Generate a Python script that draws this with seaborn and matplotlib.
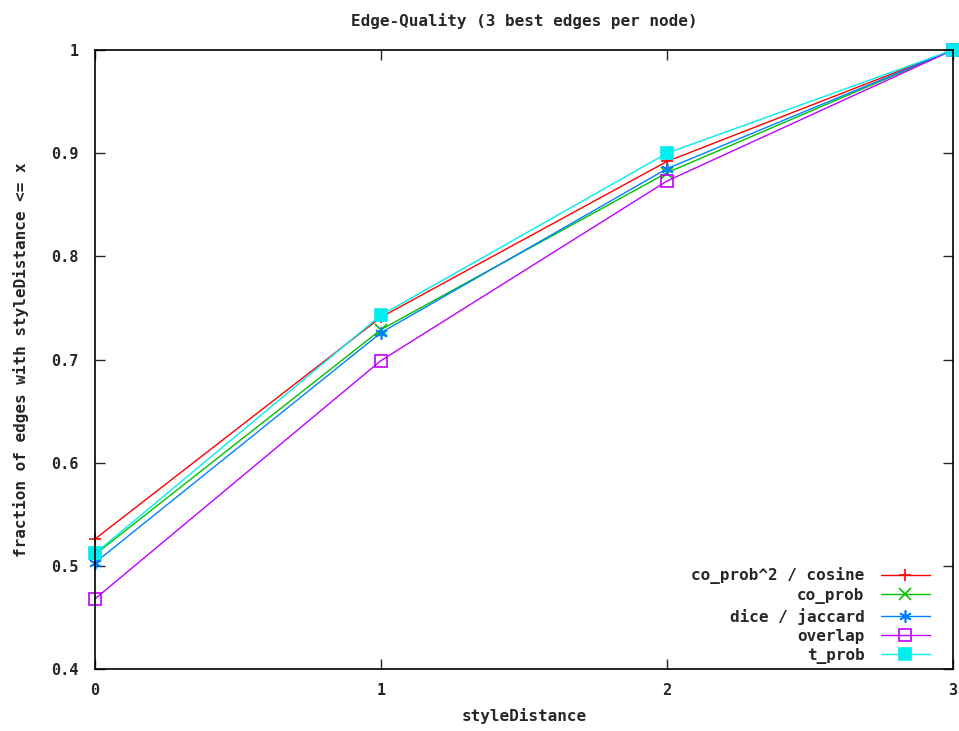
import matplotlib
matplotlib.use("Agg")
import matplotlib.pyplot as plt
import seaborn as sns
import pandas as pd

x_vals = [0, 1, 2, 3]
cosine = [0.526, 0.741, 0.892, 1.0]
co_prob = [0.511, 0.729, 0.881, 1.0]
dice = [0.503, 0.726, 0.885, 1.0]
overlap = [0.468, 0.699, 0.873, 1.0]
t_prob = [0.512, 0.743, 0.900, 1.0]

names = ["co_prob^2 / cosine", "co_prob", "dice / jaccard", "overlap", "t_prob"]
series = [cosine, co_prob, dice, overlap, t_prob]
colors = ["#ff0000", "#00c000", "#0080ff", "#c000ff", "#00eeee"]
markers = ["+", "x", (6, 2, 0), "s", "s"]
fills = [True, True, True, False, True]

sns.set_style("ticks")
plt.rcParams['font.family'] = ['DejaVu Sans Mono', 'DejaVu Sans']
plt.rcParams['font.weight'] = 'bold'
plt.rcParams['xtick.direction'] = 'in'
plt.rcParams['ytick.direction'] = 'in'

fig = plt.figure(figsize=(9.59, 7.31), dpi=100)
ax = fig.add_axes([95/959, 1-669/731, (953-95)/959, (669-50)/731])

for name, vals, c, m, f in zip(names, series, colors, markers, fills):
    df = pd.DataFrame({"x": x_vals, "y": vals})
    kw = dict(markerfacecolor=c if f else "none", markeredgecolor=c, markeredgewidth=1.2)
    sns.lineplot(data=df, x="x", y="y", ax=ax, color=c, marker=m, markersize=9,
                 linewidth=1, label=name, clip_on=False, **kw)

ax.set_xlim(0, 3)
ax.set_ylim(0.4, 1.0)
ax.set_xticks([0, 1, 2, 3])
ax.set_yticks([0.4, 0.5, 0.6, 0.7, 0.8, 0.9, 1.0])
ax.set_yticklabels(["0.4", "0.5", "0.6", "0.7", "0.8", "0.9", "1"])
ax.tick_params(axis='both', which='both', direction='in', top=True, right=True,
               length=7, width=1, labelsize=11, pad=10)
ax.tick_params(axis='y', pad=12)
for lab in ax.get_xticklabels() + ax.get_yticklabels():
    lab.set_fontweight('bold')
for s in ax.spines.values():
    s.set_linewidth(1.2)
    s.set_color('black')
    s.set_visible(True)

ax.set_title("Edge-Quality (3 best edges per node)", fontsize=11.5, fontweight='bold', pad=17)
ax.set_xlabel("styleDistance", fontsize=11.5, fontweight='bold', labelpad=7)
ax.set_ylabel("fraction of edges with styleDistance <= x", fontsize=11.5, fontweight='bold', labelpad=16)

leg = ax.legend(loc='lower right', frameon=False, markerfirst=False, fontsize=11.5,
                handlelength=3.1, handletextpad=1.0, labelspacing=0.25,
                bbox_to_anchor=(0.99, -0.015))
for t in leg.get_texts():
    t.set_fontweight('bold')
    t.set_ha('right')

fig.savefig("out.png", dpi=100)
